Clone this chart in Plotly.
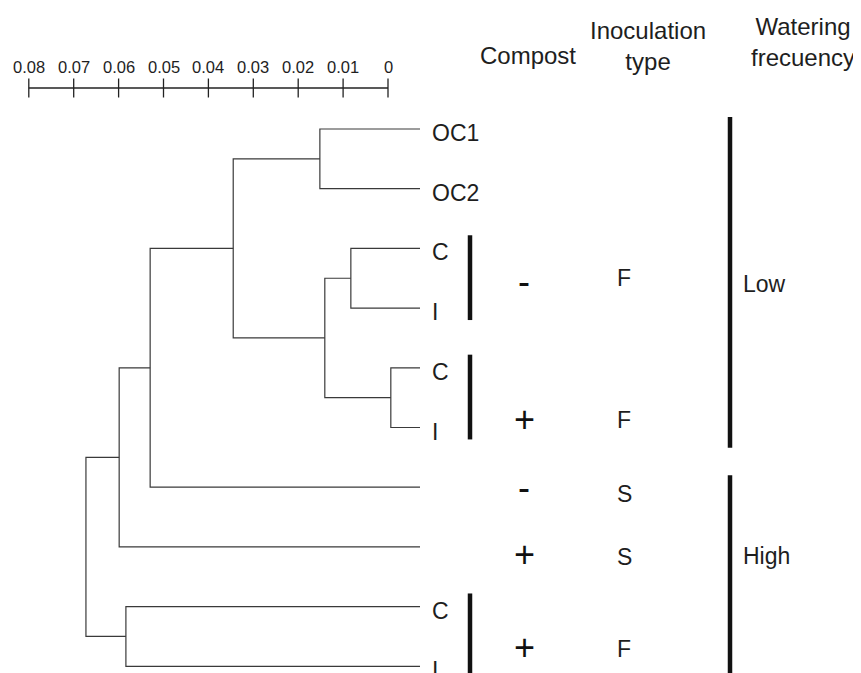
import plotly.graph_objects as go

# ---------------- data ----------------
leaf_labels = ["OC1", "OC2", "C", "I", "C", "I", "", "", "C", "I"]
# merges: node id = 10 + index
merge_children = [(0, 1), (2, 3), (4, 5), (11, 12), (10, 13), (14, 6), (15, 7), (8, 9), (16, 17)]
merge_heights = [0.0223, 0.0154, 0.0065, 0.0212, 0.0416, 0.0601, 0.0670, 0.0655, 0.0744]

scale_ticks = [0.08, 0.07, 0.06, 0.05, 0.04, 0.03, 0.02, 0.01, 0.0]
scale_labels = ["0.08", "0.07", "0.06", "0.05", "0.04", "0.03", "0.02", "0.01", "0"]

compost_groups = [(2, 3), (4, 5), (8, 9)]
compost_signs = ["-", "+", "-", "+", "+"]
compost_rows = [2.56, 4.87, 6.01, 7.12, 8.69]
inoculation_types = ["F", "F", "S", "S", "F"]
inoculation_rows = [2.50, 4.87, 6.11, 7.17, 8.71]
watering_groups = [(0, 5), (6, 9)]
watering_levels = ["Low", "High"]
watering_rows = [2.6, 7.15]

headers = ["Compost", "Inoculation<br>type", "Watering<br>frecuency"]

# ---------------- layout helpers ----------------
PAGE_OFF = 8              # default body margin of the html page
W, H = 861 - PAGE_OFF, 673 - PAGE_OFF
PX_PER_UNIT_X = 4490.0    # pixels per distance unit
LEAF_PX = 420.0 - PAGE_OFF
ROW_PX = 59.7
TOP_PX = 129.0 - PAGE_OFF
x_max = LEAF_PX / PX_PER_UNIT_X
x_min = -(W - LEAF_PX) / PX_PER_UNIT_X
y_min = -TOP_PX / ROW_PX
y_max = y_min + H / ROW_PX


def px_x(sx):
    """screen pixel x -> data x"""
    return (LEAF_PX - (sx - PAGE_OFF)) / PX_PER_UNIT_X


def px_y(sy):
    """screen pixel y -> data y"""
    return ((sy - PAGE_OFF) - TOP_PX) / ROW_PX


FONT = "Liberation Sans, Arial, Helvetica, sans-serif"
LINE_COLOR = "#3a3a3a"
TEXT_COLOR = "#1e1e1e"

# node positions
pos_x = {i: 0.0 for i in range(len(leaf_labels))}
pos_y = {i: float(i) for i in range(len(leaf_labels))}
for k, ((a, b), h) in enumerate(zip(merge_children, merge_heights)):
    nid = 10 + k
    pos_x[nid] = h
    pos_y[nid] = (pos_y[a] + pos_y[b]) / 2.0

dx, dy = [], []
for (a, b), h in zip(merge_children, merge_heights):
    dx += [pos_x[a], h, h, pos_x[b], None]
    dy += [pos_y[a], pos_y[a], pos_y[b], pos_y[b], None]

fig = go.Figure()
fig.add_trace(go.Scatter(x=dx, y=dy, mode="lines",
                         line=dict(color=LINE_COLOR, width=1.2),
                         hoverinfo="skip", showlegend=False))

# scale bar (drawn with an offset to the left of the leaves)
scale_offset = 32.0 / PX_PER_UNIT_X
scale_y = px_y(88)
tick_half = 9.5 / ROW_PX
sx = [min(scale_ticks) + scale_offset, max(scale_ticks) + scale_offset, None]
sy = [scale_y, scale_y, None]
for t in scale_ticks:
    sx += [t + scale_offset, t + scale_offset, None]
    sy += [scale_y - tick_half, scale_y + tick_half, None]
fig.add_trace(go.Scatter(x=sx, y=sy, mode="lines",
                         line=dict(color="#222", width=1.3),
                         hoverinfo="skip", showlegend=False))

annotations = []
for t, lab in zip(scale_ticks, scale_labels):
    annotations.append(dict(x=t + scale_offset, y=px_y(67), text=lab,
                            showarrow=False, xanchor="center", yanchor="middle",
                            font=dict(family=FONT, size=16.5, color=TEXT_COLOR)))

# leaf labels
for i, lab in enumerate(leaf_labels):
    if lab:
        annotations.append(dict(x=0, y=i, text=lab, showarrow=False,
                                xanchor="left", yanchor="middle", xshift=10, yshift=-4,
                                font=dict(family=FONT, size=23, color=TEXT_COLOR)))

# group bars
compost_bar_x = px_x(470)
water_bar_x = px_x(730)
bx, by = [], []
for a, b in compost_groups:
    bx += [compost_bar_x, compost_bar_x, None]
    by += [a - 0.22, b + 0.2, None]
wx, wy = [], []
for a, b in watering_groups:
    wx += [water_bar_x, water_bar_x, None]
    wy += [a - 0.2, b + 0.34, None]
fig.add_trace(go.Scatter(x=bx + wx, y=by + wy, mode="lines",
                         line=dict(color="#111", width=4.5),
                         hoverinfo="skip", showlegend=False))

compost_x = px_x(524)
inoc_x = px_x(624)
water_lab_x = px_x(741)
for s, r in zip(compost_signs, compost_rows):
    annotations.append(dict(x=compost_x, y=r, text=s, showarrow=False,
                            xanchor="center", yanchor="middle",
                            font=dict(family=FONT, size=36, color="#111")))
for s, r in zip(inoculation_types, inoculation_rows):
    annotations.append(dict(x=inoc_x, y=r, text=s, showarrow=False,
                            xanchor="center", yanchor="middle",
                            font=dict(family=FONT, size=23, color=TEXT_COLOR)))
for s, r in zip(watering_levels, watering_rows):
    annotations.append(dict(x=water_lab_x, y=r, text=s, showarrow=False,
                            xanchor="left", yanchor="middle",
                            font=dict(family=FONT, size=23, color=TEXT_COLOR)))

header_x = [px_x(528), px_x(648), px_x(803)]
header_y = [px_y(55), px_y(46), px_y(42)]
for s, hx, hy in zip(headers, header_x, header_y):
    annotations.append(dict(x=hx, y=hy, text=s, showarrow=False,
                            xanchor="center", yanchor="middle", align="center",
                            font=dict(family=FONT, size=24, color=TEXT_COLOR)))

fig.update_layout(
    width=W, height=H,
    margin=dict(l=0, r=0, t=0, b=0),
    plot_bgcolor="white", paper_bgcolor="white",
    xaxis=dict(range=[x_max, x_min], visible=False, fixedrange=True),
    yaxis=dict(range=[y_max, y_min], visible=False, fixedrange=True),
    annotations=annotations,
)
fig.write_html("out.html")
